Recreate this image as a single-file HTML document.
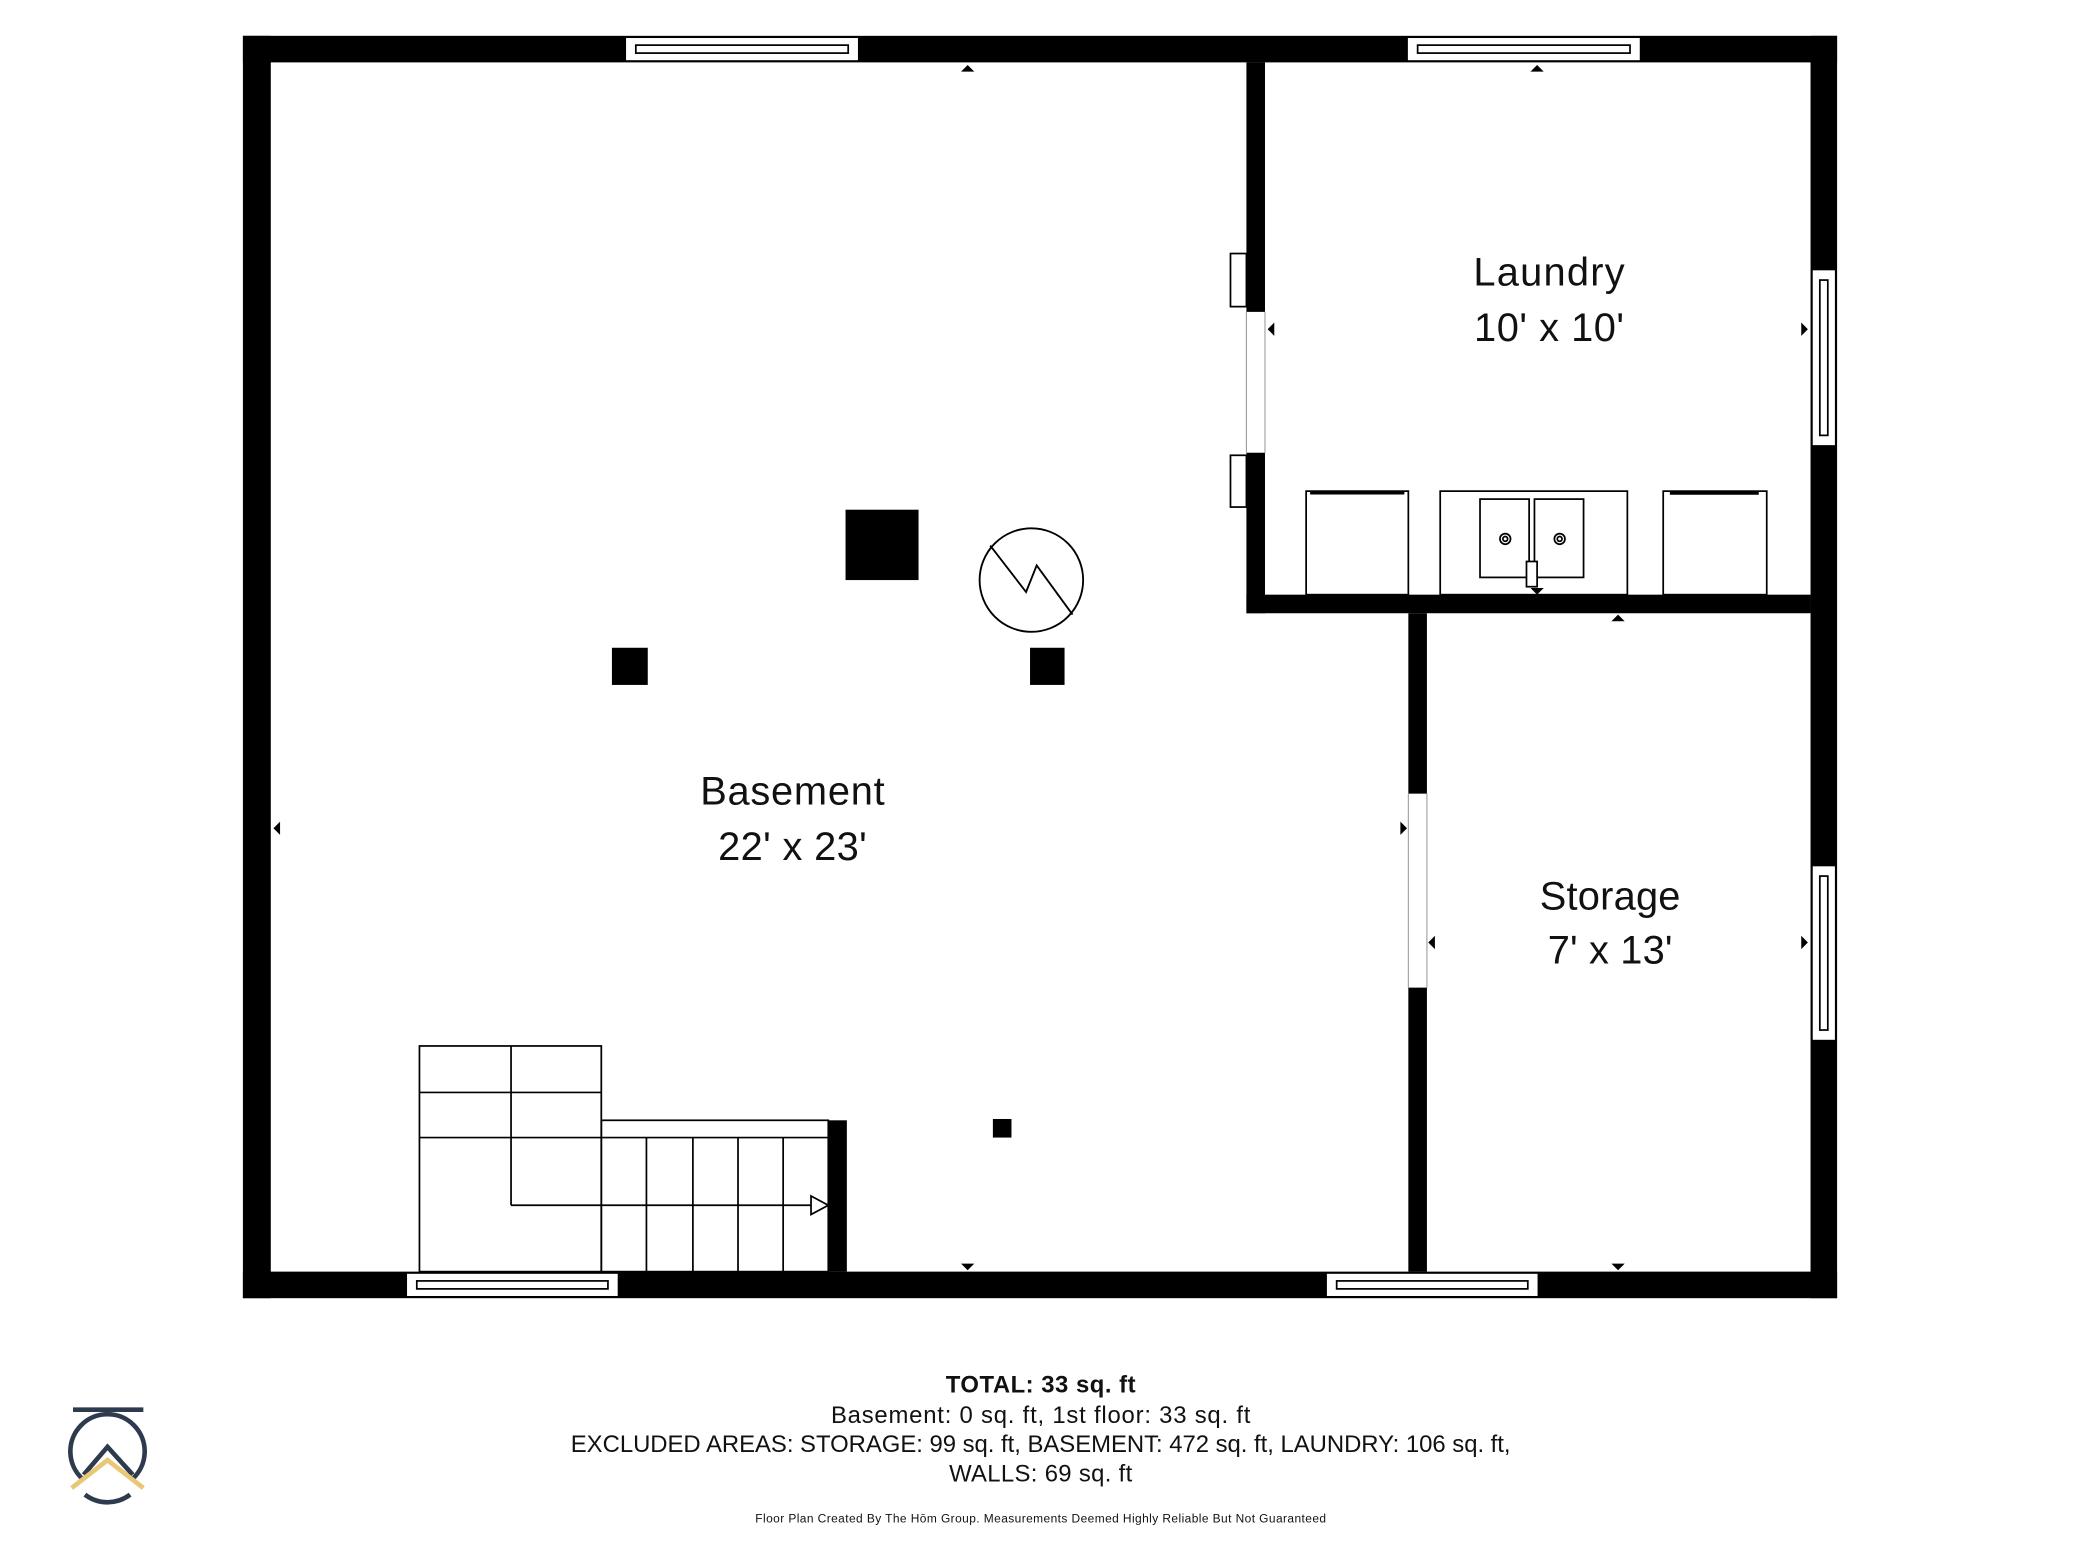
<!DOCTYPE html>
<html><head><meta charset="utf-8"><style>
html,body{margin:0;padding:0;background:#fff}
svg{display:block}
text{font-family:"Liberation Sans",sans-serif;fill:#111}
</style></head><body>
<svg width="2080" height="1560" viewBox="0 0 1567 1175.25" xmlns="http://www.w3.org/2000/svg">
<rect width="1567" height="1176" fill="#fff"/>
<g fill="#000">
<rect x="183" y="27" width="1201" height="20"/>
<rect x="183" y="958" width="1201" height="20"/>
<rect x="183" y="27" width="21" height="951"/>
<rect x="1364" y="27" width="20" height="951"/>
<rect x="939" y="47" width="14" height="188"/>
<rect x="939" y="341" width="14" height="121"/>
<rect x="939" y="448" width="425" height="14"/>
<rect x="1061" y="462" width="14" height="136"/>
<rect x="1061" y="744" width="14" height="214"/>
<rect x="624" y="844" width="14" height="114"/>
<rect x="637" y="384" width="55" height="53"/>
<rect x="461" y="488" width="27" height="28"/>
<rect x="776" y="488" width="26" height="28"/>
<rect x="748" y="843" width="14" height="14"/>
</g>
<g fill="#fff" stroke="#999" stroke-width="0.8">
<rect x="939" y="235" width="14" height="106" stroke="none"/>
<line x1="939" y1="235" x2="939" y2="341"/><line x1="953" y1="235" x2="953" y2="341"/>
<rect x="1061" y="598" width="14" height="146" stroke="none"/>
<line x1="1061" y1="598" x2="1061" y2="744"/><line x1="1075" y1="598" x2="1075" y2="744"/>
</g>
<g fill="#fff" stroke="#000" stroke-width="1.3">
<rect x="927" y="191" width="12" height="40"/>
<rect x="927" y="343" width="12" height="39"/>
</g>
<g fill="#fff" stroke="#000" stroke-width="1.3">
<rect x="471" y="28" width="176" height="18"/><rect x="479" y="34" width="160" height="6"/>
<rect x="1060" y="28" width="176" height="18"/><rect x="1068" y="34" width="160" height="6"/>
<rect x="306" y="959" width="160" height="18"/><rect x="314" y="965" width="144" height="6"/>
<rect x="999" y="959" width="160" height="18"/><rect x="1007" y="965" width="144" height="6"/>
<rect x="1365" y="203" width="18" height="133"/><rect x="1371" y="211" width="6" height="117"/>
<rect x="1365" y="652" width="18" height="132"/><rect x="1371" y="660" width="6" height="116"/>
</g>
<g fill="none" stroke="#000" stroke-width="1.3">
<rect x="316" y="788" width="137" height="170"/>
<line x1="316" y1="823" x2="453" y2="823"/>
<line x1="316" y1="857" x2="453" y2="857"/>
<line x1="385" y1="788" x2="385" y2="908"/>
<line x1="385" y1="908" x2="612" y2="908"/>
<rect x="453" y="844" width="171" height="114"/>
<line x1="453" y1="857" x2="624" y2="857"/>
<line x1="487" y1="857" x2="487" y2="958"/>
<line x1="522" y1="857" x2="522" y2="958"/>
<line x1="556" y1="857" x2="556" y2="958"/>
<line x1="590" y1="857" x2="590" y2="958"/>
<polygon points="611,901 624,908 611,915" fill="#fff"/>
</g>
<g fill="none" stroke="#000" stroke-width="1.4">
<circle cx="777" cy="437" r="39"/>
<polyline points="746,411 773,446 781,426 808,463"/>
</g>
<g fill="#fff" stroke="#000" stroke-width="1.3">
<rect x="984" y="370" width="77" height="78"/>
<line x1="987" y1="371.5" x2="1058" y2="371.5" stroke-width="2"/>
<rect x="1085" y="370" width="141" height="78"/>
<rect x="1115" y="376" width="37" height="59"/>
<rect x="1156" y="376" width="37" height="59"/>
<circle cx="1134" cy="406" r="4"/><circle cx="1134" cy="406" r="1.8"/>
<circle cx="1175" cy="406" r="4"/><circle cx="1175" cy="406" r="1.8"/>
<rect x="1150" y="423" width="8" height="19"/>
<rect x="1253" y="370" width="78" height="78"/>
<line x1="1258" y1="371.5" x2="1325" y2="371.5" stroke-width="2.5"/>
</g>
<g fill="#000">
<polygon points="724,54 734,54 729,49"/>
<polygon points="1153,54 1163,54 1158,49"/>
<polygon points="724,952 734,952 729,957"/>
<polygon points="1214,952 1224,952 1219,957"/>
<polygon points="1214,468 1224,468 1219,463"/>
<polygon points="1153,443 1163,443 1158,448"/>
<polygon points="211,619 211,629 206,624"/>
<polygon points="1055,619 1055,629 1060,624"/>
<polygon points="1081,705 1081,715 1076,710"/>
<polygon points="960,243 960,253 955,248"/>
<polygon points="1357,243 1357,253 1362,248"/>
<polygon points="1357,705 1357,715 1362,710"/>
</g>
<g font-size="30" text-anchor="middle" lengthAdjust="spacing">
<text x="1167" y="215" textLength="114">Laundry</text>
<text x="1167" y="257" textLength="113">10' x 10'</text>
<text x="597" y="606" textLength="139">Basement</text>
<text x="597" y="648" textLength="112">22' x 23'</text>
<text x="1213" y="685" textLength="106">Storage</text>
<text x="1213" y="726" textLength="94">7' x 13'</text>
</g>
<g font-size="18" text-anchor="middle">
<text x="784" y="1049" font-weight="bold" textLength="143">TOTAL: 33 sq. ft</text>
<text x="784" y="1072" textLength="316">Basement: 0 sq. ft, 1st floor: 33 sq. ft</text>
<text x="784" y="1094" textLength="708">EXCLUDED AREAS: STORAGE: 99 sq. ft, BASEMENT: 472 sq. ft, LAUNDRY: 106 sq. ft,</text>
<text x="784" y="1116" textLength="138">WALLS: 69 sq. ft</text>
</g>
<text x="784" y="1147" font-size="9" text-anchor="middle" textLength="430">Floor Plan Created By The Hōm Group. Measurements Deemed Highly Reliable But Not Guaranteed</text>
<g fill="none" stroke-width="3.5">
<line x1="55" y1="1062" x2="108" y2="1062" stroke="#2e3b4e"/>
<path d="M62,1114 A28,28 0 1 1 100,1114" stroke="#2e3b4e"/>
<polyline points="63,1111 81,1090 100,1111" stroke="#2e3b4e"/>
<polyline points="54,1121 81,1100 108,1121" stroke="#e8c877"/>
<path d="M64,1126 A28,28 0 0 0 98,1126" stroke="#2e3b4e"/>
</g>
</svg>
</body></html>
